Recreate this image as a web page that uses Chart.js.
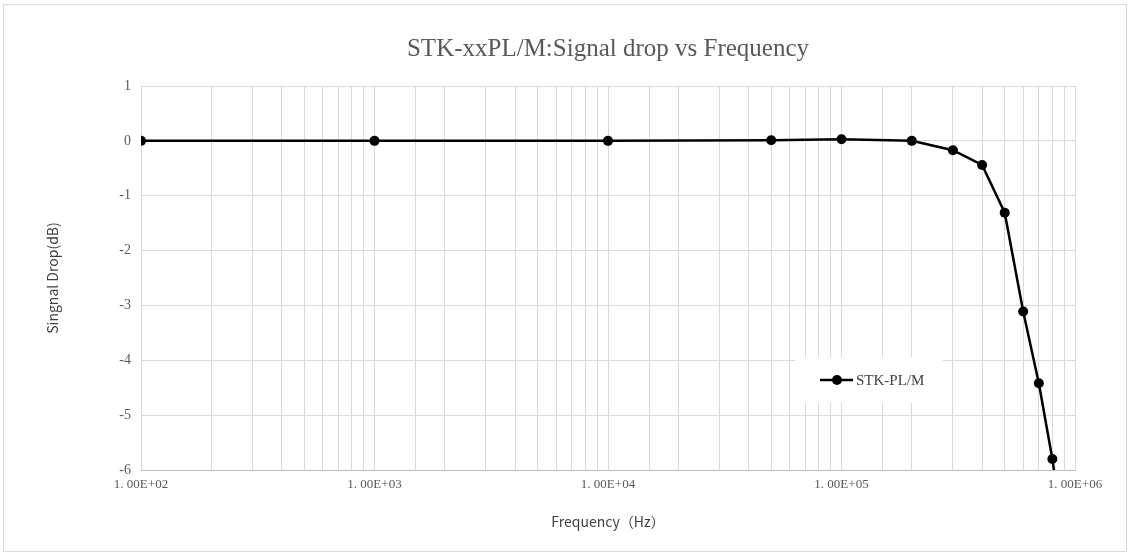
<!DOCTYPE html>
<html>
<head>
<meta charset="utf-8">
<script src="https://cdn.jsdelivr.net/npm/chart.js@4.4.1/dist/chart.umd.min.js"></script>
<style>
  html, body { margin: 0; padding: 0; background: #fff; }
  #wrap { position: relative; width: 1130px; height: 554px; }
  #frame { position: absolute; left: 3px; top: 4px; right: 3px; bottom: 2px; border: 1px solid #d9d9d9; pointer-events: none; }
</style>
</head>
<body>
<div id="wrap">
  <canvas id="dropChart" width="1130" height="554"></canvas>
  <div id="frame"></div>
</div>
<script>
// frequency points (Hz) and measured signal drop (dB)
const freqs = [100, 1000, 10000, 50000, 100000, 200000, 300000, 400000, 500000, 600000, 700000, 800000, 900000];
const drops = [0, 0, 0, 0.01, 0.03, 0, -0.17, -0.44, -1.31, -3.11, -4.42, -5.8, -7.3];

const xTickLabels = ['1. 00E+02', '1. 00E+03', '1. 00E+04', '1. 00E+05', '1. 00E+06'];
const yTicks = [1, 0, -1, -2, -3, -4, -5, -6];

const seriesName = 'STK-PL/M';
const chartTitle = 'STK-xxPL/M:Signal drop vs Frequency';

const ctx = document.getElementById('dropChart').getContext('2d');

const serif = '"Liberation Serif", "DejaVu Serif", serif';
const sans = '"Noto Sans CJK SC", "Noto Sans", sans-serif';

// title centred over the plot area (Excel style), legend inside the plot
const decorations = {
    id: 'decorations',
    afterDraw(chart) {
        const c = chart.ctx;
        const area = chart.chartArea;
        c.save();
        c.fillStyle = '#595959';
        c.font = '25px ' + serif;
        c.textAlign = 'center';
        c.textBaseline = 'middle';
        c.fillText(chartTitle, (area.left + area.right) / 2, 49);
        c.restore();
    },
    afterDatasetsDraw(chart) {
        const c = chart.ctx;
        const area = chart.chartArea;
        const x0 = area.left + 654, y0 = area.top + 271;
        c.save();
        c.fillStyle = '#fff';
        c.fillRect(x0, y0, 148, 46);
        const ly = y0 + 23;
        c.strokeStyle = '#000';
        c.lineWidth = 2.5;
        c.beginPath();
        c.moveTo(x0 + 25, ly);
        c.lineTo(x0 + 58, ly);
        c.stroke();
        c.fillStyle = '#000';
        c.beginPath();
        c.arc(x0 + 42, ly, 5, 0, 2 * Math.PI);
        c.fill();
        c.fillStyle = '#404040';
        c.font = '15px ' + serif;
        c.textBaseline = 'middle';
        c.fillText(seriesName, x0 + 61, ly + 1);
        c.restore();
    }
};

new Chart(ctx, {
    type: 'line',
    data: {
        datasets: [{
            label: seriesName,
            data: freqs.map((f, i) => ({ x: f, y: drops[i] })),
            borderColor: '#000',
            backgroundColor: '#000',
            borderWidth: 2.5,
            tension: 0,
            pointRadius: 5,
            pointHoverRadius: 5,
            pointBackgroundColor: '#000',
            pointBorderWidth: 0
        }]
    },
    options: {
        responsive: false,
        animation: false,
        layout: {
            padding: { top: 86, left: 44, right: 55, bottom: 14 }
        },
        plugins: {
            legend: { display: false },
            tooltip: { enabled: false },
            title: { display: false }
        },
        scales: {
            x: {
                type: 'logarithmic',
                min: 100,
                max: 1000000,
                grid: { color: '#d9d9d9', lineWidth: 1, drawTicks: false },
                border: { color: '#bfbfbf' },
                ticks: {
                    autoSkip: false,
                    maxRotation: 0,
                    padding: 7,
                    color: '#595959',
                    font: { family: serif, size: 13 },
                    callback: function(value) {
                        const p = Math.log10(value);
                        if (Math.abs(p - Math.round(p)) < 1e-9) {
                            return xTickLabels[Math.round(p) - 2];
                        }
                        return '';
                    }
                },
                title: {
                    display: true,
                    text: 'Frequency（Hz）',
                    color: '#404040',
                    font: { family: sans, size: 14 },
                    padding: { top: 0, bottom: 10 }
                },
                afterFit: function(scale) { scale.height = 70; }
            },
            y: {
                min: -6,
                max: 1,
                afterBuildTicks: function(scale) {
                    scale.ticks = yTicks.map(v => ({ value: v }));
                },
                grid: { color: '#d9d9d9', lineWidth: 1, drawTicks: false },
                border: { display: false },
                ticks: {
                    padding: 10,
                    color: '#595959',
                    font: { family: serif, size: 14 }
                },
                title: {
                    display: true,
                    text: 'Singnal Drop(dB)',
                    color: '#404040',
                    font: { family: sans, size: 14 },
                    padding: { top: 0, bottom: 0 }
                },
                afterFit: function(scale) { scale.width = 97; }
            }
        }
    },
    plugins: [decorations]
});
</script>
</body>
</html>
